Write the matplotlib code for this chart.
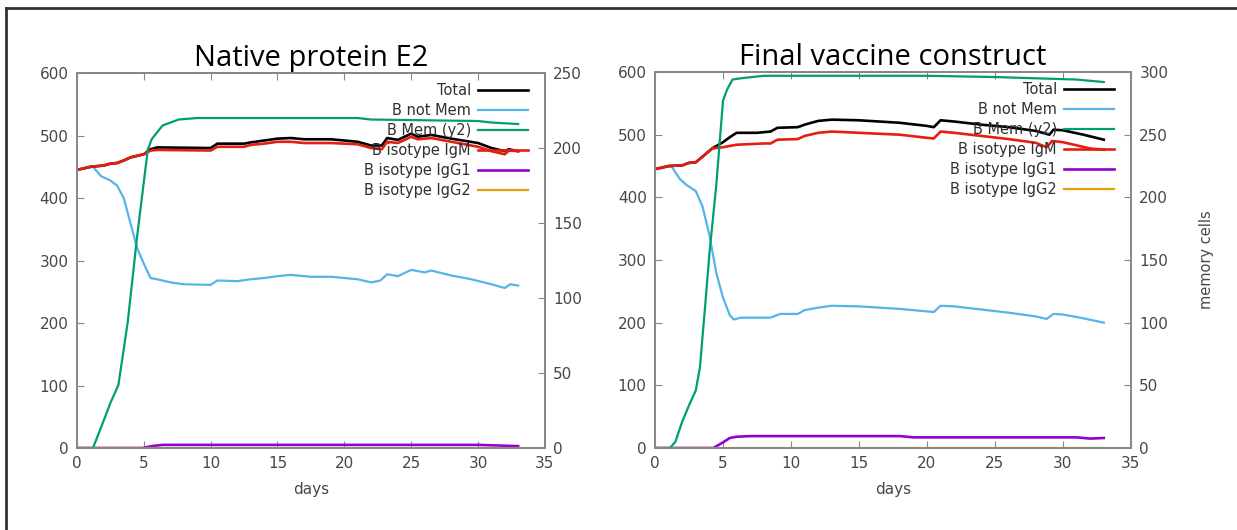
import matplotlib
matplotlib.use("Agg")
import matplotlib.pyplot as plt
from matplotlib.lines import Line2D

# ---- Native protein E2 ----
n_day_tot = [0, 1, 2, 2.5, 3, 3.5, 4, 5, 5.5, 6, 10, 10.5, 12.5, 13, 14, 15, 16, 17, 19, 21, 22,
             22.8, 23.2, 24, 25, 25.5, 26.5, 28, 30, 31, 32, 32.3, 33]
n_total = [445, 450, 452, 455, 456, 460, 465, 470, 478, 481, 480, 487, 487, 489, 492, 495, 496, 494,
           494, 490, 484, 484, 496, 493, 503, 498, 501, 495, 488, 480, 475, 478, 475]
n_igm = [445, 450, 452, 455, 456, 460, 465, 470, 476, 477, 476, 482, 482, 485, 487, 490, 490, 488,
         488, 486, 480, 478, 490, 488, 498, 494, 496, 490, 482, 475, 470, 476, 475]
n_day_nm = [0, 1.2, 1.8, 2.5, 3, 3.5, 4, 4.5, 5, 5.5, 6, 7, 8, 10, 10.5, 12, 13, 14, 15, 16, 17.5,
            19, 21, 22, 22.7, 23.2, 24, 25, 26, 26.5, 28, 29.5, 31, 32, 32.4, 33]
n_notmem = [445, 450, 435, 428, 420, 400, 360, 320, 295, 272, 270, 265, 262, 261, 268, 267, 270, 272,
            275, 277, 274, 274, 270, 265, 268, 278, 275, 285, 281, 284, 276, 270, 262, 256, 262, 260]
n_day_mem = [0, 1.2, 1.9, 2.5, 3.1, 3.8, 4.5, 5.3, 5.6, 6.4, 7.6, 9, 21, 22, 30, 31, 33]
n_mem = [0, 0, 16, 30, 42, 84, 141, 199, 206, 215, 219, 220, 220, 219, 218, 217, 216]
n_day_g1 = [0, 4.9, 5.6, 6.4, 30, 33]
n_igg1 = [0, 0, 3, 5, 5, 3]

# ---- Final vaccine construct ----
f_day_tot = [0, 1, 2, 2.5, 3, 3.5, 4.2, 5, 5.5, 6, 7.5, 8.5, 9, 10.5, 11, 12, 13, 15, 18, 20, 20.5,
             21, 22, 24, 26, 28, 29, 29.3, 30, 31.5, 33]
f_total = [445, 450, 451, 455, 456, 465, 478, 488, 496, 503, 503, 505, 511, 512, 516, 522, 524, 523,
           519, 514, 512, 523, 521, 516, 512, 506, 500, 508, 507, 500, 492]
f_day_igm = [0, 1, 2, 2.5, 3, 3.5, 4.2, 5, 6, 8, 8.5, 9, 10.5, 11, 12, 13, 15, 18, 20, 20.5, 21, 22,
             24, 26, 28, 28.8, 29.2, 30, 31, 32, 33]
f_igm = [445, 450, 451, 455, 456, 465, 478, 480, 484, 486, 486, 492, 493, 498, 503, 505, 503, 500,
         495, 494, 505, 503, 498, 493, 487, 480, 490, 488, 483, 478, 476]
f_day_nm = [0, 1.2, 1.8, 2.3, 3, 3.5, 4, 4.5, 5, 5.5, 5.8, 6.3, 8.5, 9.2, 10.5, 11, 12, 13, 15, 18,
            20, 20.5, 21, 22, 24, 26, 28, 28.8, 29.3, 30, 31.5, 33]
f_notmem = [445, 450, 430, 420, 410, 385, 340, 280, 240, 212, 205, 208, 208, 214, 214, 220, 224, 227,
            226, 222, 218, 217, 227, 226, 221, 216, 210, 206, 214, 213, 207, 200]
f_day_mem = [0, 1.1, 1.5, 2, 2.5, 3, 3.3, 3.7, 4, 4.5, 5, 5.3, 5.7, 6.3, 8, 20, 25, 28, 31, 33]
f_mem = [0, 0, 5, 21, 34, 46, 64, 115, 155, 209, 277, 286, 294, 295, 297, 297, 296, 295, 294, 292]
f_day_g1 = [0, 4.3, 5, 5.5, 6, 7, 18, 19, 31, 32, 33]
f_igg1 = [0, 0, 9, 16, 18, 19, 19, 17, 17, 15, 16]

labels = ["Total", "B not Mem", "B Mem (y2)", "B isotype IgM", "B isotype IgG1", "B isotype IgG2"]
colors = ["black", "#56b4e9", "#009e73", "#e51e10", "#9400d3", "#e69f00"]
frame = "#888888"
tickc = "#474747"

plt.rcParams['font.family'] = ['DejaVu Sans']
fig = plt.figure(figsize=(12.37, 5.30), dpi=100)


def panel(rect, title, tot, notmem, mem, igm, igg1, y2max, y2label):
    ax = fig.add_axes(rect)
    ax2 = ax.twinx()
    lw = 1.6
    h_tot, = ax.plot(tot[0], tot[1], color=colors[0], lw=lw + 0.3, label=labels[0], zorder=3)
    h_nm, = ax.plot(notmem[0], notmem[1], color=colors[1], lw=lw, label=labels[1])
    h_mem, = ax2.plot(mem[0], mem[1], color=colors[2], lw=lw, label=labels[2])
    h_igm, = ax.plot(igm[0], igm[1], color=colors[3], lw=lw + 0.3, label=labels[3], zorder=4)
    h_g1, = ax.plot(igg1[0], igg1[1], color=colors[4], lw=lw + 0.3, label=labels[4])
    h_g2, = ax.plot([0, 33], [0, 0], color=colors[5], lw=lw, label=labels[5])
    ax.set_xlim(0, 35)
    ax.set_ylim(0, 600)
    ax2.set_ylim(0, y2max)
    ax.set_xticks(range(0, 36, 5))
    ax.set_yticks(range(0, 601, 100))
    ax2.set_yticks(range(0, y2max + 1, 50))
    for a in (ax, ax2):
        for s in a.spines.values():
            s.set_color(frame)
            s.set_linewidth(1.3)
    ax.tick_params(axis="x", direction="in", top=True, length=5, color=frame,
                   labelcolor=tickc, labelsize=11, pad=6)
    ax.tick_params(axis="y", direction="in", length=5, color=frame,
                   labelcolor=tickc, labelsize=11, pad=6)
    ax2.tick_params(axis="y", direction="in", length=5, color=frame,
                    labelcolor=tickc, labelsize=11, pad=6)
    ax.set_xlabel("days", color=tickc, fontsize=11, labelpad=8)
    if y2label:
        ax2.set_ylabel(y2label, color=tickc, fontsize=10.5, labelpad=22)
    ax.set_title(title, fontsize=21, family="Open Sans", pad=4)
    ax2.legend([h_tot, h_nm, h_mem, h_igm, h_g1, h_g2], labels, loc="upper right",
               frameon=False, markerfirst=False, fontsize=10.5, handlelength=3.4,
               labelspacing=0.34, handletextpad=0.5, borderaxespad=0.3,
               bbox_to_anchor=(0.985, 1.0), labelcolor="#303030")
    ax2.set_zorder(ax.get_zorder() + 1)
    ax.set_facecolor("white")
    ax2.patch.set_visible(False)
    return ax, ax2


panel([0.0622, 0.1547, 0.3783, 0.7075], "Native protein E2",
      (n_day_tot, n_total), (n_day_nm, n_notmem), (n_day_mem, n_mem),
      (n_day_tot, n_igm), (n_day_g1, n_igg1), 250, None)
panel([0.5295, 0.1547, 0.3848, 0.7094], "Final vaccine construct",
      (f_day_tot, f_total), (f_day_nm, f_notmem), (f_day_mem, f_mem),
      (f_day_igm, f_igm), (f_day_g1, f_igg1), 300, "memory cells")

# outer frame of the screenshot
fig.add_artist(Line2D([0.0045, 0.0045], [0, 0.985], color="#333333", lw=2))
fig.add_artist(Line2D([0.0045, 1], [0.985, 0.985], color="#333333", lw=2))

fig.savefig("out.png", dpi=100)
